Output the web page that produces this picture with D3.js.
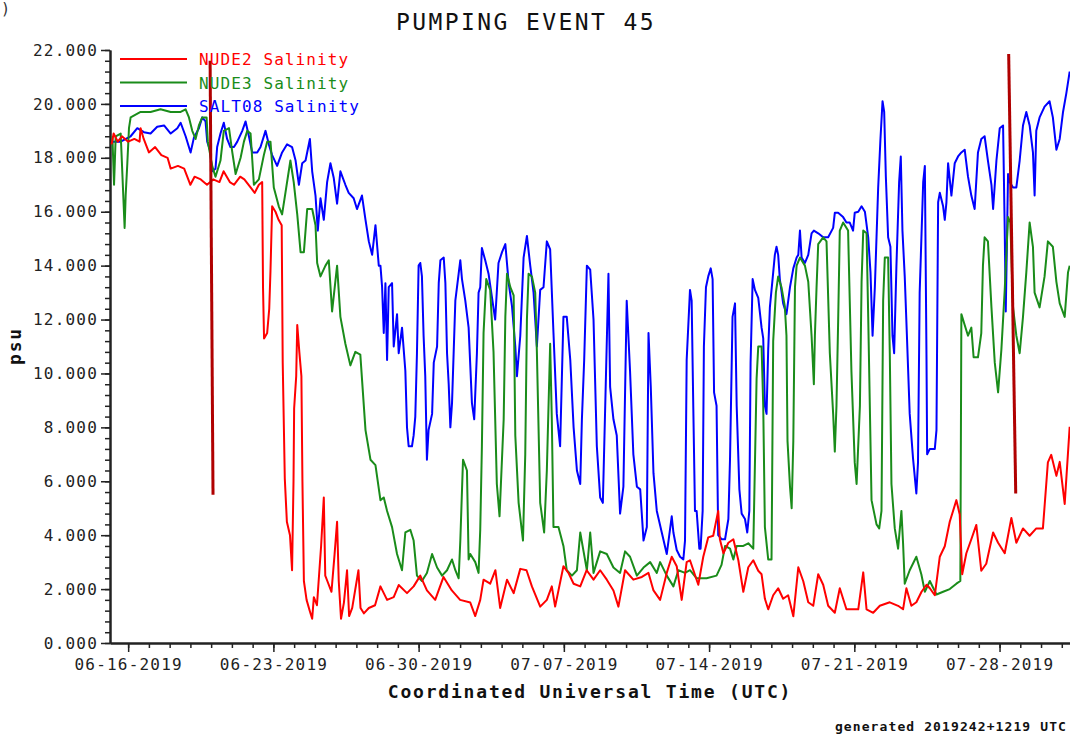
<!DOCTYPE html>
<html>
<head>
<meta charset="utf-8">
<script src="https://cdn.jsdelivr.net/npm/d3@7"></script>
<style>
  body { margin: 0; background: #fff; }
  text { font-family: 'DejaVu Sans Mono', 'Liberation Mono', monospace; }
</style>
</head>
<body>
<div id="chart"></div>
<script>
// values: [days since 06-16-2019 00:00 UTC, psu]
var chartTitle = 'PUMPING EVENT 45'
var seriesNames = ['NUDE2 Salinity', 'NUDE3 Salinity', 'SALT08 Salinity']
var xTickLabels = ['06-16-2019', '06-23-2019', '06-30-2019', '07-07-2019', '07-14-2019', '07-21-2019', '07-28-2019']
var yTickValues = [0, 2, 4, 6, 8, 10, 12, 14, 16, 18, 20, 22]
var xTitle = 'Coordinated Universal Time (UTC)'
var yTitle = 'psu'
var footer = 'generated 2019242+1219 UTC'

// event markers: [start day, start psu, end day, end psu]
var eventMarkers = [[3.95, 21.6, 4.09, 5.5], [42.44, 21.85, 42.78, 5.55]]

var nude2 = [
  [-0.8,18.5],[-0.7,18.9],[-0.5,18.6],[-0.3,18.8],[0,18.6],[0.3,18.7],[0.55,18.6],[0.6,19.1],[0.75,18.7],
  [1.0,18.2],[1.3,18.4],[1.6,18.1],[1.9,18.0],[2.05,17.6],[2.4,17.7],[2.7,17.6],[3.0,17.0],[3.2,17.3],
  [3.5,17.2],[3.8,17.0],[4.1,17.2],[4.4,17.1],[4.6,17.5],[4.9,17.1],[5.1,17.0],[5.4,17.3],[5.6,17.2],
  [5.9,16.9],[6.1,16.7],[6.3,17.0],[6.46,17.1],[6.5,13.2],[6.55,11.3],[6.7,11.5],[6.8,12.4],[6.86,13.8],
  [6.94,16.2],[7.1,16.0],[7.25,15.7],[7.4,15.5],[7.45,10.4],[7.55,6.1],[7.65,4.5],[7.8,4.0],[7.9,2.7],
  [7.97,6.0],[8.0,8.7],[8.1,9.9],[8.15,11.8],[8.25,10.8],[8.35,9.9],[8.4,6.0],[8.47,2.3],[8.6,1.6],
  [8.75,1.2],[8.87,0.9],[8.95,1.7],[9.1,1.4],[9.3,3.6],[9.43,5.4],[9.5,2.5],[9.6,2.3],[9.8,1.9],[9.95,3.3],
  [10.07,4.5],[10.15,2.3],[10.26,0.9],[10.4,1.5],[10.55,2.7],[10.65,1.0],[10.8,1.3],[11.1,2.7],[11.2,1.3],
  [11.36,1.1],[11.6,1.3],[11.9,1.4],
  [12.16,2.1],[12.48,1.6],[12.8,1.7],[13.04,2.15],[13.44,1.85],[13.76,2.1],[14.08,2.5],[14.4,1.95],
  [14.8,1.6],[15.2,2.45],[15.6,1.95],[16.0,1.6],[16.49,1.5],[16.73,1.0],[16.97,1.6],[17.13,2.35],
  [17.45,2.2],[17.7,2.7],[17.93,1.3],[18.26,2.35],[18.58,1.85],[18.9,2.75],[19.2,2.7],[19.46,2.1],
  [19.86,1.35],[20.18,1.6],[20.42,2.1],[20.58,1.35],[20.98,2.85],[21.22,2.6],[21.47,2.2],[21.79,2.1],
  [22.1,2.7],[22.43,2.35],[22.75,2.7],[23.07,2.35],[23.39,1.95],[23.63,1.35],[23.95,2.7],[24.35,2.35],
  [24.76,2.45],[25.08,2.6],[25.32,1.95],[25.64,1.6],[25.96,2.6],[26.2,3.2],[26.44,2.85],[26.68,1.6],
  [26.92,3.0],
  [27.08,3.07],[27.48,2.16],[27.72,3.2],[27.96,3.92],[28.2,3.98],[28.44,4.9],[28.52,3.85],[28.69,3.33],
  [28.93,3.72],[29.17,3.85],[29.41,3.07],[29.65,1.9],[29.89,2.81],[30.13,3.07],[30.37,2.68],[30.53,2.55],
  [30.69,1.64],[30.85,1.25],[31.09,1.77],[31.33,2.03],[31.57,1.64],[31.81,1.77],[32.06,0.99],[32.3,2.81],
  [32.54,2.29],[32.78,1.51],[33.02,1.38],[33.26,2.55],[33.5,2.16],[33.74,1.38],[34.06,1.12],[34.3,2.03],
  [34.62,1.25],[34.94,1.25],[35.19,1.25],[35.43,2.62],[35.59,1.25],[35.91,1.12],[36.23,1.38],[36.71,1.51],
  [37.11,1.38],[37.35,1.25],[37.51,2.03],[37.75,1.38],[37.99,1.51],[38.24,1.9],[38.48,2.16],[38.64,2.03],
  [38.88,1.77],[39.12,3.2],[39.36,3.59],[39.6,4.5],[39.92,5.3],[40.08,4.77],[40.2,2.55],[40.4,3.33],
  [40.64,3.85],[40.88,4.38],[41.12,2.68],[41.36,2.94],[41.69,4.1],[41.93,3.72],[42.25,3.33],[42.57,4.64],
  [42.81,3.72],[43.13,4.25],[43.45,3.98],[43.77,4.25],[44.09,4.25],[44.33,6.7],[44.49,6.98],[44.74,6.2],
  [44.9,6.72],[45.14,5.16],[45.38,8.02]
]

var nude3 = [
  [-0.76,18.8],[-0.68,17.0],[-0.6,18.8],[-0.36,18.9],[-0.17,15.4],[-0.12,16.6],[-0.04,17.8],[0.04,19.1],
  [0.12,19.5],[0.6,19.7],[1.08,19.7],[1.56,19.8],[2.05,19.7],[2.53,19.7],[2.77,19.8],[2.93,19.5],
  [3.09,19.0],[3.25,18.7],[3.41,19.2],[3.57,19.5],[3.78,19.5],[3.84,18.6],[4.05,17.7],[4.21,17.3],
  [4.45,17.9],[4.61,19.0],[4.86,19.1],[5.02,18.2],[5.18,17.4],[5.42,18.0],[5.58,18.6],[5.74,19.0],
  [5.9,18.9],[6.06,17.0],[6.3,17.2],[6.54,18.1],[6.7,18.6],[6.86,18.6],[7.02,16.9],[7.26,16.2],
  [7.42,15.9],[7.58,16.7],[7.82,17.9],[7.98,17.1],[8.15,15.9],[8.31,14.5],[8.47,14.5],[8.63,16.1],
  [8.87,16.1],[9.03,15.5],[9.11,14.1],[9.27,13.6],[9.51,14.0],[9.67,14.2],[9.83,12.3],[10.07,14.0],
  [10.23,12.1],[10.47,11.1],[10.71,10.3],[10.95,10.8],[11.19,10.7],[11.44,7.9],[11.68,6.8],[11.92,6.6],
  [12.16,5.3],[12.32,5.4],[12.48,4.9],[12.72,4.3],[12.96,3.3],[13.2,2.7],[13.36,4.1],[13.6,4.2],
  [13.76,3.8],[13.92,2.5],[14.16,2.3],[14.4,2.6],[14.65,3.3],[14.89,2.8],[15.13,2.5],[15.37,2.7],
  [15.61,3.1],[15.77,2.7],[15.93,2.4],[16.01,3.8],[16.14,6.8],[16.33,6.4],[16.41,3.1],[16.49,3.3],
  [16.73,3.0],[16.89,2.6],[16.97,4.2],[17.05,7.3],[17.13,11.5],[17.26,13.5],[17.45,13.1],[17.61,10.8],
  [17.77,5.9],[17.9,4.7],[18.1,8.3],[18.18,12.1],[18.26,13.7],[18.42,13.2],[18.58,12.9],[18.66,7.7],
  [18.82,5.2],[19.03,3.8],[19.14,7.0],[19.22,12.0],[19.3,13.7],[19.46,13.6],[19.62,13.0],[19.7,10.8],
  [19.86,5.2],[20.05,4.1],[20.18,6.4],[20.34,11.1],[20.42,8.3],[20.5,4.3],[20.74,4.3],[20.98,3.6],
  [21.14,2.7],[21.39,2.5],[21.63,2.7],[21.79,4.1],[21.95,3.4],[22.11,2.7],[22.27,4.1],[22.43,2.6],
  [22.75,3.4],[23.07,3.3],[23.39,2.8],[23.71,2.6],[23.95,3.4],[24.19,3.2],[24.52,2.5],[24.84,2.8],
  [25.16,3.0],[25.48,2.6],[25.64,3.0],[25.96,2.5],[26.28,2.1],[26.52,2.7],[26.84,2.6],
  [27.08,2.7],[27.4,2.4],[27.88,2.4],[28.36,2.5],[28.6,2.9],[28.77,3.6],[29.01,3.5],[29.17,3.1],
  [29.33,3.6],[29.65,3.6],[29.89,3.7],[30.13,3.5],[30.29,9.8],[30.37,11.0],[30.53,11.0],[30.61,8.8],
  [30.69,4.3],[30.85,3.1],[31.01,3.1],[31.09,11.2],[31.22,13.0],[31.33,13.6],[31.49,13.2],[31.65,12.5],
  [31.73,11.4],[31.78,7.5],[31.9,5.8],[31.98,5.0],[32.06,7.5],[32.14,13.2],[32.22,14.0],[32.38,14.3],
  [32.62,14.0],[32.78,13.4],[32.94,11.4],[33.05,9.6],[33.1,11.4],[33.18,13.2],[33.26,14.8],[33.5,15.05],
  [33.66,14.9],[33.82,10.75],[33.98,8.5],[34.06,7.1],[34.14,8.8],[34.22,11.9],[34.3,15.3],[34.46,15.6],
  [34.7,15.3],[34.86,10.1],[35.02,6.7],[35.11,5.9],[35.27,8.8],[35.35,13.4],[35.43,15.3],[35.59,15.2],
  [35.67,12.1],[35.83,5.3],[36.07,4.4],[36.2,4.25],[36.31,4.9],[36.39,12.7],[36.47,14.3],[36.63,14.3],
  [36.71,10.75],[36.79,5.9],[36.95,4.25],[37.11,3.5],[37.27,4.9],[37.35,3.7],[37.43,2.2],[37.67,2.7],
  [37.99,3.2],[38.23,2.55],[38.4,1.9],[38.64,2.3],[38.96,1.8],[39.28,1.9],[39.6,2.0],[39.92,2.2],
  [40.11,2.3],[40.16,12.2],[40.32,11.8],[40.48,11.4],[40.64,11.7],[40.75,10.6],[40.96,10.6],[41.12,11.5],
  [41.2,14.0],[41.28,15.05],[41.44,14.9],[41.61,12.45],[41.77,10.4],[41.93,9.3],[42.09,10.9],[42.25,13.1],
  [42.41,15.8],[42.52,15.6],[42.65,12.45],[42.81,11.4],[42.97,10.75],[43.13,12.1],[43.29,13.75],[43.45,15.6],
  [43.61,14.7],[43.69,13.0],[43.93,12.45],[44.17,13.6],[44.33,14.9],[44.57,14.7],[44.74,13.4],[44.9,12.6],
  [45.14,12.1],[45.3,13.75],[45.38,14.0]
]

var salt08 = [
  [-0.76,18.6],[-0.36,18.6],[0.12,18.8],[0.44,19.1],[0.76,18.95],[1.08,18.9],[1.4,19.15],[1.73,19.2],
  [2.05,18.9],[2.37,19.1],[2.53,19.3],[2.77,18.8],[3.01,18.2],[3.17,18.75],[3.41,19.1],[3.57,19.5],
  [3.73,19.35],[3.81,18.6],[3.94,18.3],[4.05,17.5],[4.21,17.6],[4.29,18.4],[4.45,18.9],[4.61,19.3],
  [4.77,18.7],[4.93,18.4],[5.1,18.4],[5.26,18.6],[5.5,19.0],[5.66,19.35],[5.82,18.8],[5.98,18.2],
  [6.22,18.2],[6.38,18.4],[6.62,19.0],[6.78,18.5],[6.94,18.1],[7.18,17.7],[7.42,18.2],[7.66,18.5],
  [7.9,18.4],[8.07,17.9],[8.23,17.0],[8.39,17.8],[8.55,17.9],[8.76,18.7],[8.87,17.5],[9.03,16.6],
  [9.14,15.3],[9.27,16.5],[9.43,15.7],[9.59,17.1],[9.75,17.8],[9.91,17.25],[10.07,16.3],[10.23,17.5],
  [10.47,17.0],[10.63,16.7],[10.87,16.5],[11.03,16.1],[11.27,16.6],[11.44,15.7],[11.6,14.9],[11.76,14.4],
  [11.92,15.5],[12.08,14.0],
  [12.16,14.0],[12.24,13.2],[12.32,11.5],[12.4,13.35],[12.48,10.5],[12.56,13.2],[12.72,13.35],[12.8,11.0],
  [12.96,12.2],[13.04,10.75],[13.2,11.7],[13.36,10.1],[13.44,8.0],[13.52,7.3],[13.68,7.3],[13.76,7.7],
  [13.84,8.4],[13.92,10.75],[14.0,14.0],[14.08,14.1],[14.16,13.6],[14.24,11.4],[14.32,9.9],[14.4,6.8],
  [14.48,7.9],[14.65,8.5],[14.73,10.4],[14.89,11.0],[14.97,13.35],[15.05,14.2],[15.21,14.3],[15.29,13.35],
  [15.37,10.75],[15.45,9.6],[15.53,8.0],[15.61,8.9],[15.77,12.7],[15.93,13.7],[16.01,14.2],[16.09,13.5],
  [16.25,12.7],[16.41,11.7],[16.57,8.9],[16.68,8.3],[16.81,10.75],[16.89,13.0],[16.97,13.2],[17.05,14.65],
  [17.21,14.2],[17.37,13.7],[17.53,12.85],[17.69,12.0],[17.85,14.1],[18.02,14.5],[18.18,14.8],[18.34,13.35],
  [18.5,12.5],[18.66,11.0],[18.74,9.9],[18.9,11.4],[19.06,14.3],[19.22,15.1],[19.38,14.0],[19.54,13.0],
  [19.7,11.0],[19.86,13.1],[20.02,13.2],[20.18,14.9],[20.34,14.6],[20.5,11.5],[20.66,8.5],[20.82,7.3],
  [20.98,12.1],[21.14,12.1],[21.31,10.5],[21.47,8.0],[21.63,6.4],[21.79,5.9],[21.87,8.3],[21.98,10.5],
  [22.11,14.0],[22.27,13.85],[22.43,12.0],[22.59,7.3],[22.75,5.4],[22.88,5.2],[23.15,13.7],[23.23,9.5],
  [23.39,8.3],[23.55,7.7],[23.71,4.8],[23.87,5.8],[24.03,12.7],[24.19,10.1],[24.35,7.0],[24.52,5.8],
  [24.68,5.7],[24.84,3.8],[25.0,4.3],[25.08,11.5],[25.19,9.5],[25.32,6.3],[25.48,4.9],[25.72,4.1],
  [25.96,3.3],[26.2,4.7],[26.28,4.1],[26.44,3.45],[26.6,3.2],[26.76,3.1],[26.84,3.8],[26.92,10.5],
  [27.08,13.1],[27.16,12.7],[27.24,8.7],[27.32,4.9],[27.4,4.9],[27.53,3.5],[27.59,3.5],[27.69,4.9],
  [27.75,11.0],[27.85,13.2],[27.96,13.6],[28.08,13.9],[28.17,13.5],[28.24,9.3],[28.36,8.8],[28.44,4.0],
  [28.6,3.85],[28.77,3.85],[28.93,4.6],[29.01,6.85],[29.13,12.1],[29.25,12.6],[29.33,8.8],[29.46,5.7],
  [29.57,4.8],[29.73,4.6],[29.84,4.1],[29.94,4.9],[30.0,10.4],[30.1,13.5],[30.21,13.1],[30.37,12.8],
  [30.53,11.7],[30.61,11.3],[30.69,8.8],[30.77,8.5],[30.85,10.9],[30.93,12.45],[31.06,13.5],[31.17,14.4],
  [31.25,14.7],[31.33,14.4],[31.41,13.5],[31.57,12.6],[31.73,12.2],[31.9,13.2],[32.06,13.9],[32.22,14.3],
  [32.3,14.4],[32.38,15.3],[32.46,14.3],[32.62,14.1],[32.78,14.4],[32.94,15.2],[33.05,15.3],[33.26,15.2],
  [33.5,15.05],[33.74,15.05],[33.98,15.4],[34.06,15.96],[34.22,15.96],[34.46,15.8],[34.62,15.6],[34.78,15.6],
  [34.94,15.3],[35.02,15.96],[35.19,16.0],[35.35,16.2],[35.51,16.0],[35.67,15.05],[35.78,13.75],[35.88,11.4],
  [35.99,13.2],[36.15,16.9],[36.26,18.7],[36.36,20.1],[36.44,19.7],[36.52,17.3],[36.63,15.05],[36.74,14.7],
  [36.84,11.4],[36.92,10.75],[37.03,14.0],[37.16,17.1],[37.24,18.05],[37.32,15.3],[37.43,13.6],[37.54,11.3],
  [37.67,8.5],[37.83,6.85],[37.99,5.55],[38.07,6.7],[38.15,13.0],[38.32,17.1],[38.4,17.7],[38.48,10.5],
  [38.51,7.0],[38.64,7.2],[38.88,7.2],[38.96,7.9],[39.04,16.35],[39.12,16.7],[39.28,16.2],[39.36,15.7],
  [39.44,16.35],[39.52,17.8],[39.68,16.6],[39.84,17.8],[40.0,18.05],[40.16,18.2],[40.32,18.3],[40.48,17.3],
  [40.64,16.6],[40.8,16.1],[40.96,18.2],[41.12,18.7],[41.28,18.8],[41.44,17.9],[41.61,17.0],[41.69,16.1],
  [41.85,17.9],[42.01,19.1],[42.17,19.2],[42.25,15.3],[42.3,12.3],[42.41,17.4],[42.49,17.1],[42.65,16.9],
  [42.81,16.9],[42.97,17.9],[43.13,19.2],[43.29,19.7],[43.45,19.2],[43.61,18.2],[43.69,16.6],[43.77,19.0],
  [43.93,19.5],[44.17,19.9],[44.41,20.1],[44.57,19.5],[44.74,18.3],[44.9,18.7],[45.06,19.7],[45.22,20.4],
  [45.38,21.2]
]

function buildChart() {
  var width = 1070
  var height = 737
  var plot = {left: 110, right: 1070, top: 50, bottom: 643}
  var colors = ['#ff0000', '#1a8c1a', '#0000ff']
  var dayMs = 864e5
  var origin = Date.UTC(2019, 5, 16)
  var toDate = function(d) { return new Date(origin + d * dayMs) }
  var parseTick = d3.utcParse('%m-%d-%Y')

  var svg = d3.select('#chart')
    .append('svg')
      .attr('width', width)
      .attr('height', height)

  var x = d3.scaleUtc()
    .domain([new Date('2019-06-15T03:00:00Z'), new Date('2019-07-31T09:30:00Z')])
    .range([plot.left, plot.right])
  var y = d3.scaleLinear().domain([0, 22]).range([plot.bottom, plot.top])

  svg.append('defs').append('clipPath').attr('id', 'plotclip')
    .append('rect')
      .attr('x', plot.left).attr('y', 30)
      .attr('width', plot.right - plot.left).attr('height', plot.bottom - 30)

  // y axis: minor ticks every 0.4, labelled ticks every 2
  svg.append('g')
    .attr('transform', 'translate(' + plot.left + ',0)')
    .call(d3.axisLeft(y).tickValues(d3.range(0, 22.001, 0.4)).tickSize(5).tickSizeOuter(0).tickFormat(''))
  svg.append('g')
    .attr('transform', 'translate(' + plot.left + ',0)')
    .call(d3.axisLeft(y).tickValues(yTickValues).tickSize(9).tickSizeOuter(0).tickPadding(3).tickFormat(d3.format('.3f')))

  // x axis: daily minor ticks, weekly labels
  var days = d3.utcDay.range(x.domain()[0], x.domain()[1])
  svg.append('g')
    .attr('transform', 'translate(0,' + plot.bottom + ')')
    .call(d3.axisBottom(x).tickValues(days).tickSize(5).tickSizeOuter(0).tickFormat(''))
  svg.append('g')
    .attr('transform', 'translate(0,' + plot.bottom + ')')
    .call(d3.axisBottom(x).tickValues(xTickLabels.map(parseTick)).tickSize(9).tickSizeOuter(0).tickPadding(7)
      .tickFormat(d3.utcFormat('%m-%d-%Y')))

  svg.selectAll('.domain').attr('stroke', '#222').attr('stroke-width', 2)
  svg.selectAll('.tick line').attr('stroke', '#222').attr('stroke-width', 1.5)
  svg.selectAll('.tick text')
    .attr('fill', '#222')
    .style('font-size', '16px')
    .style('letter-spacing', '1.2px')
    .style('font-family', "'DejaVu Sans Mono', monospace")

  // data lines, blue first so red lands on top
  var line = d3.line()
    .x(function(d) { return x(toDate(d[0])) })
    .y(function(d) { return y(d[1]) })
  var allSeries = [nude2, nude3, salt08]
  var lines = svg.append('g').attr('clip-path', 'url(#plotclip)')
  for (var i = allSeries.length - 1; i >= 0; --i) {
    lines.append('path')
      .datum(allSeries[i])
      .attr('fill', 'none')
      .attr('stroke', colors[i])
      .attr('stroke-width', 2)
      .attr('stroke-linejoin', 'round')
      .attr('d', line)
  }

  // pumping event markers
  lines.selectAll('.event')
    .data(eventMarkers)
    .enter().append('line')
      .attr('class', 'event')
      .attr('x1', function(d) { return x(toDate(d[0])) })
      .attr('y1', function(d) { return y(d[1]) })
      .attr('x2', function(d) { return x(toDate(d[2])) })
      .attr('y2', function(d) { return y(d[3]) })
      .attr('stroke', '#b00000')
      .attr('stroke-width', 3)

  // legend
  var legend = svg.append('g')
  seriesNames.forEach(function(name, i) {
    var ly = 59 + i * 23.5
    legend.append('line')
      .attr('x1', 120).attr('x2', 187).attr('y1', ly).attr('y2', ly)
      .attr('stroke', colors[i]).attr('stroke-width', 2)
    legend.append('text')
      .attr('x', 199).attr('y', ly + 6)
      .attr('fill', colors[i])
      .style('font-size', '16px')
      .style('letter-spacing', '1.1px')
      .text(name)
  })

  // titles
  svg.append('text')
    .attr('x', 526).attr('y', 30)
    .attr('text-anchor', 'middle')
    .style('font-size', '23px')
    .style('letter-spacing', '2.4px')
    .attr('fill', '#111')
    .text(chartTitle)

  svg.append('text')
    .attr('x', 590).attr('y', 698)
    .attr('text-anchor', 'middle')
    .style('font-size', '18px')
    .style('font-weight', 'bold')
    .style('letter-spacing', '1.8px')
    .attr('fill', '#111')
    .text(xTitle)

  svg.append('text')
    .attr('transform', 'translate(21,346) rotate(-90)')
    .attr('text-anchor', 'middle')
    .style('font-size', '18px')
    .style('font-weight', 'bold')
    .style('letter-spacing', '1.8px')
    .attr('fill', '#111')
    .text(yTitle)

  svg.append('text')
    .attr('x', 1067).attr('y', 731)
    .attr('text-anchor', 'end')
    .style('font-size', '13px')
    .style('font-weight', 'bold')
    .style('letter-spacing', '1.1px')
    .attr('fill', '#111')
    .text(footer)

  // small bracket at the top-left corner of the screenshot
  svg.append('text')
    .attr('x', 1).attr('y', 14)
    .style('font-size', '15px')
    .attr('fill', '#333')
    .text(')')
}

buildChart()
</script>
</body>
</html>
